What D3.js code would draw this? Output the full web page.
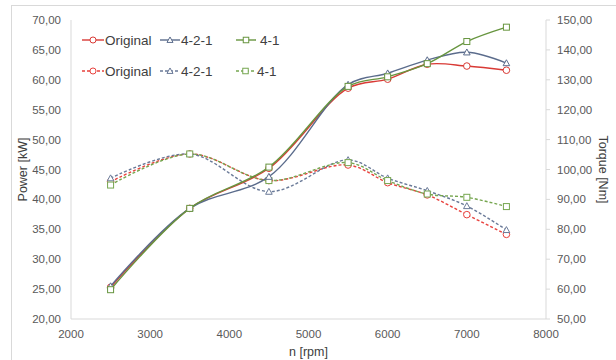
<!DOCTYPE html>
<html>
<head>
<meta charset="utf-8">
<script src="https://cdn.jsdelivr.net/npm/d3@7"></script>
<style>
  body { margin: 0; background: #fff; }
  svg { font-family: "Liberation Sans", Arial, sans-serif; }
</style>
</head>
<body>
<svg width="616" height="360"></svg>
<script>
// rpm points
let rpm = [2500, 3500, 4500, 5500, 6000, 6500, 7000, 7500]

// power [kW], solid lines
let powerOriginal = [25.3, 38.5, 45.2, 58.6, 60.1, 62.6, 62.3, 61.6]
let power421 = [25.5, 38.5, 43.8, 59.2, 61.1, 63.3, 64.6, 62.8]
let power41 = [24.9, 38.5, 45.4, 58.9, 60.5, 62.7, 66.4, 68.8]

// torque [Nm], dashed lines
let torqueOriginal = [95.9, 105.2, 96.3, 101.5, 95.6, 91.5, 84.9, 78.3]
let torque421 = [97.1, 105.2, 92.6, 103.2, 97.1, 92.9, 87.8, 79.8]
let torque41 = [94.8, 105.2, 96.3, 102.3, 96.3, 91.8, 90.7, 87.6]

let xTicks = [2000, 3000, 4000, 5000, 6000, 7000, 8000]
let powerTicks = [20, 25, 30, 35, 40, 45, 50, 55, 60, 65, 70]
let torqueTicks = [50, 60, 70, 80, 90, 100, 110, 120, 130, 140, 150]

let plotLeft = 71, plotRight = 546, plotTop = 20, plotBottom = 319
let svg = d3.select("svg")
let fmt = v => v.toFixed(2).replace(".", ",")

svg.append("rect")
  .attr("x", 11.5).attr("y", 5.5).attr("width", 620).attr("height", 370)
  .attr("fill", "none").attr("stroke", "#d9d9d9")

let x = d3.scaleLinear().domain([2000, 8000]).range([plotLeft, plotRight])
let yP = d3.scaleLinear().domain([20, 70]).range([plotBottom, plotTop])
let yT = d3.scaleLinear().domain([50, 150]).range([plotBottom, plotTop])

// axes
svg.append("line").attr("x1", plotLeft).attr("x2", plotLeft).attr("y1", plotTop).attr("y2", plotBottom)
  .attr("stroke", "#d9d9d9")
svg.append("line").attr("x1", plotLeft).attr("x2", plotRight).attr("y1", plotBottom).attr("y2", plotBottom)
  .attr("stroke", "#d9d9d9")
svg.append("line").attr("x1", plotRight).attr("x2", plotRight).attr("y1", plotTop).attr("y2", plotBottom)
  .attr("stroke", "#d9d9d9")

svg.selectAll(".rtick").data(torqueTicks).enter().append("line")
  .attr("x1", plotRight).attr("x2", plotRight + 4)
  .attr("y1", d => yT(d)).attr("y2", d => yT(d))
  .attr("stroke", "#d9d9d9")

svg.selectAll(".ltl").data(powerTicks).enter().append("text")
  .attr("x", 61).attr("y", d => yP(d) + 4)
  .attr("text-anchor", "end").attr("font-size", 11.5).attr("fill", "#595959")
  .text(d => fmt(d))

svg.selectAll(".rtl").data(torqueTicks).enter().append("text")
  .attr("x", 557).attr("y", d => yT(d) + 4)
  .attr("text-anchor", "start").attr("font-size", 11.5).attr("fill", "#595959")
  .text(d => fmt(d))

svg.selectAll(".xtl").data(xTicks).enter().append("text")
  .attr("x", d => x(d)).attr("y", 338)
  .attr("text-anchor", "middle").attr("font-size", 11.5).attr("fill", "#595959")
  .text(d => d)

svg.append("text").attr("x", (plotLeft + plotRight) / 2).attr("y", 356)
  .attr("text-anchor", "middle").attr("font-size", 12.5).attr("fill", "#404040")
  .text("n [rpm]")
svg.append("text")
  .attr("transform", "translate(27," + (plotTop + plotBottom) / 2 + ") rotate(-90)")
  .attr("text-anchor", "middle").attr("font-size", 12.5).attr("fill", "#404040")
  .text("Power [kW]")
svg.append("text")
  .attr("transform", "translate(599," + (plotTop + plotBottom) / 2 + ") rotate(90)")
  .attr("text-anchor", "middle").attr("font-size", 12.5).attr("fill", "#404040")
  .text("Torque [Nm]")

let series = [
  {name: "Original", vals: powerOriginal, y: yP, color: "#d93a35", shape: "circle", dash: null},
  {name: "4-2-1", vals: power421, y: yP, color: "#5b6c8c", shape: "triangle", dash: null},
  {name: "4-1", vals: power41, y: yP, color: "#67953f", shape: "square", dash: null},
  {name: "Original", vals: torqueOriginal, y: yT, color: "#e8413d", shape: "circle", dash: "3,2"},
  {name: "4-2-1", vals: torque421, y: yT, color: "#6a7a98", shape: "triangle", dash: "3,2"},
  {name: "4-1", vals: torque41, y: yT, color: "#76a650", shape: "square", dash: "3,2"}
]

function marker(g, shape, cx, cy, color, size) {
  if (shape == "circle") {
    g.append("circle").attr("cx", cx).attr("cy", cy).attr("r", size * 0.55)
      .attr("fill", "white").attr("stroke", color).attr("stroke-width", 1)
  } else if (shape == "square") {
    g.append("rect").attr("x", cx - size / 2).attr("y", cy - size / 2)
      .attr("width", size).attr("height", size)
      .attr("fill", "white").attr("stroke", color).attr("stroke-width", 1)
  } else {
    let h = size * 0.55
    g.append("path")
      .attr("d", "M" + cx + "," + (cy - h) + " L" + (cx + h) + "," + (cy + h * 0.8) + " L" + (cx - h) + "," + (cy + h * 0.8) + " Z")
      .attr("fill", "white").attr("stroke", color).attr("stroke-width", 1)
  }
}

let line = d3.line().curve(d3.curveCatmullRom.alpha(0.5))

// draw torque first then power on top
let order = [3, 4, 5, 0, 1, 2]
order.forEach(i => {
  let s = series[i]
  let pts = rpm.map((r, j) => [x(r), s.y(s.vals[j])])
  svg.append("path")
    .attr("d", line(pts))
    .attr("fill", "none").attr("stroke", s.color).attr("stroke-width", 1.4)
    .attr("stroke-dasharray", s.dash)
  let g = svg.append("g")
  pts.forEach(p => marker(g, s.shape, p[0], p[1], s.color, 6))
})

// legend
let legX = [[82, 104, 105], [160, 180, 181], [236, 256, 260]]
series.forEach((s, i) => {
  let col = i % 3
  let ly = i < 3 ? 40 : 71
  let lx = legX[col]
  if (i == 5) lx = [236, 255, 257]
  svg.append("line").attr("x1", lx[0]).attr("x2", lx[1]).attr("y1", ly).attr("y2", ly)
    .attr("stroke", s.color).attr("stroke-width", 1.4).attr("stroke-dasharray", s.dash)
  let g = svg.append("g")
  marker(g, s.shape, (lx[0] + lx[1]) / 2, ly, s.color, 5.5)
  svg.append("text").attr("x", lx[2]).attr("y", ly + 5)
    .attr("font-size", 13.5).attr("fill", "#404040")
    .text(s.name)
})
</script>
</body>
</html>
